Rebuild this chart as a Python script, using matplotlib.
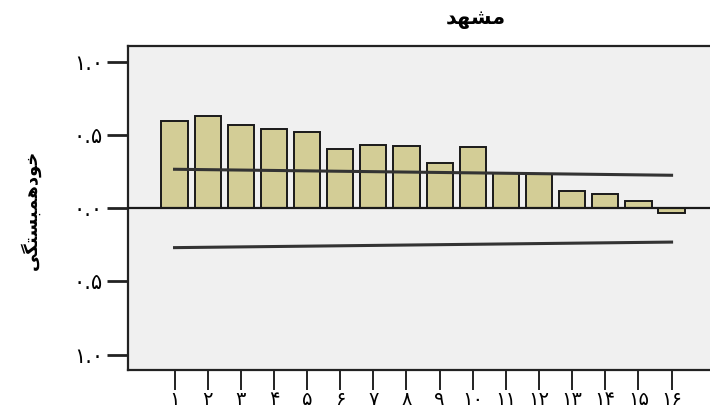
import matplotlib
matplotlib.use("Agg")
import matplotlib.pyplot as plt

# Data
lags = list(range(1, 17))
acf = [0.598, 0.630, 0.568, 0.543, 0.520, 0.406, 0.436, 0.427,
       0.308, 0.422, 0.244, 0.233, 0.119, 0.100, 0.048, -0.032]
conf_lags = [1, 16]
upper_conf = [0.267, 0.226]
lower_conf = [-0.269, -0.231]
x_labels = ["۱", "۲", "۳", "۴", "۵", "۶", "۷", "۸", "۹", "۱۰",
            "۱۱", "۱۲", "۱۳", "۱۴", "۱۵", "۱۶"]
y_ticks = [1.0, 0.5, 0.0, -0.5, -1.0]
y_labels = ["۱.۰", "۰.۵", "۰.۰", "۰.۵", "۱.۰"]
# "مشهد" and "خودهمبستگی" in shaped (presentation) forms, visual order
title_text = "\uFEAA\uFEEC\uFEB8\uFEE3"
ylabel_text = "\uFBFD\uFB95\uFE98\uFEB4\uFE92\uFEE4\uFEEB\uFEA9\uFEEE\uFEA7"

plt.rcParams['font.family'] = ['DejaVu Sans']

fig = plt.figure(figsize=(7.10, 4.19), dpi=100)
fig.patch.set_facecolor("white")
ax = fig.add_axes([0.1803, 0.1169, 0.8197, 0.7733])
ax.set_facecolor("#F0F0F0")

ax.bar(lags, acf, width=0.79, color="#D3CD96", edgecolor="#1a1a1a",
       linewidth=1.4, zorder=3)
ax.axhline(0, color="#1a1a1a", linewidth=1.6, zorder=4)
ax.plot(conf_lags, upper_conf, color="#333333", linewidth=2.2, zorder=5)
ax.plot(conf_lags, lower_conf, color="#333333", linewidth=2.2, zorder=5)

ax.set_xlim(-0.404, 17.16)
ax.set_ylim(-1.106, 1.110)

ax.set_xticks(lags)
ax.set_xticklabels(x_labels, fontsize=14)
ax.set_yticks(y_ticks)
ax.set_yticklabels(y_labels, fontsize=15)
ax.tick_params(axis="y", direction="out", length=15, width=2.0, pad=3,
               color="#222222")
ax.tick_params(axis="x", direction="out", length=14.5, width=1.4, pad=0,
               color="#222222")

for side in ["left", "top", "bottom"]:
    ax.spines[side].set_linewidth(1.6)
    ax.spines[side].set_color("#222222")
ax.spines["right"].set_visible(False)

fig.text(0.67, 0.955, title_text, fontsize=15, fontweight="bold",
         ha="center", va="center")
fig.text(0.043, 0.5, ylabel_text, fontsize=13, fontweight="bold",
         rotation=90, ha="center", va="center")

fig.savefig("out.png", dpi=100)
